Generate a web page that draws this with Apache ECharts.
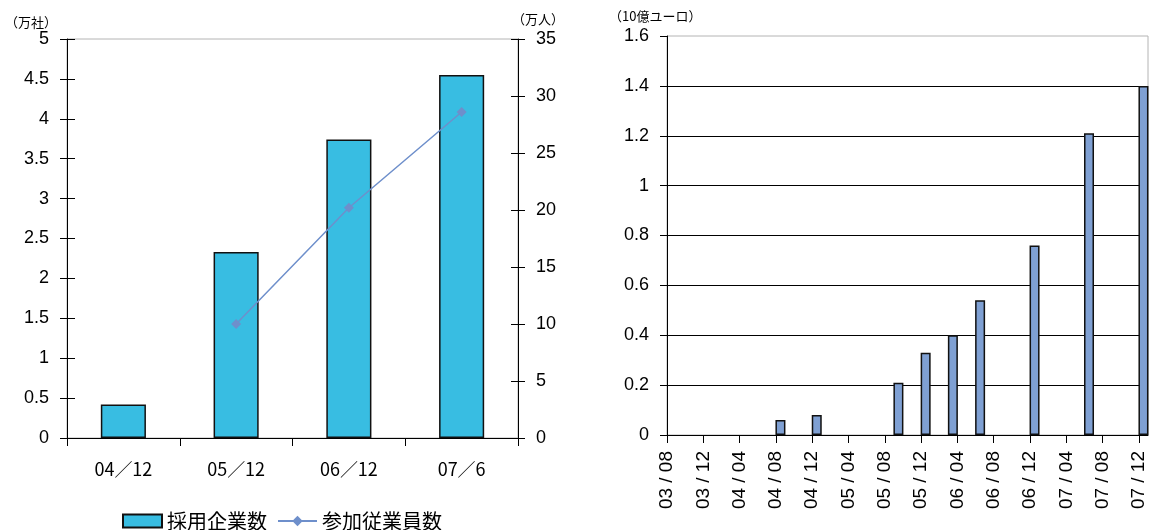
<!DOCTYPE html>
<html>
<head>
<meta charset="utf-8">
<script src="https://cdn.jsdelivr.net/npm/echarts@6/dist/echarts.min.js"></script>
<style>
  html, body { margin: 0; padding: 0; background: #fff; }
  #chart { width: 1150px; height: 530px; }
</style>
</head>
<body>
<div id="chart"></div>
<script>
// 左図：採用企業数（万社）と参加従業員数（万人）
const periods = ['04／12', '05／12', '06／12', '07／6'];
const companies = [0.42, 2.33, 3.74, 4.55];
const employees = [null, 10, 20.2, 28.6];

// 右図：月次金額（10億ユーロ）
const monthTicks = ['03/08', '03/12', '04/04', '04/08', '04/12', '05/04', '05/08',
                    '05/12', '06/04', '06/08', '06/12', '07/04', '07/08', '07/12'];
const amountMonths = ['04/08', '04/12', '05/09', '05/12', '06/03', '06/06', '06/12', '07/06', '07/12'];
const amounts = [0.06, 0.08, 0.21, 0.33, 0.40, 0.54, 0.76, 1.21, 1.40];

const JP = '"Noto Sans CJK JP", sans-serif';
const NUM = '"Liberation Sans", Arial, sans-serif';

// 'YY/MM' -> months elapsed since the first tick month
function parseYM(s) { const [y, m] = s.split('/').map(Number); return y * 12 + (m - 1); }
const origin = parseYM(monthTicks[0]);
const monthIndex = s => parseYM(s) - origin;
const lastMonth = monthIndex(monthTicks[monthTicks.length - 1]);
const tickValues = monthTicks.map(monthIndex);
const tickLabel = {};
monthTicks.forEach(t => { tickLabel[monthIndex(t)] = t.replace('/', ' / '); });

const chart = echarts.init(document.getElementById('chart'), null, { renderer: 'canvas' });

const black = '#000';
const yBase = (gridIndex, position, min, max, interval) => ({
  type: 'value', gridIndex, position, min, max, interval,
  axisLine: { show: true, lineStyle: { color: black, width: 1 } },
  axisTick: { show: true, inside: false, length: 7, lineStyle: { color: black } },
  axisLabel: { show: true, margin: 18, fontSize: 18, fontFamily: NUM, color: black },
  splitLine: { show: false }
});
const innerTicks = (gridIndex, position, min, max, interval, len) => ({
  type: 'value', gridIndex, position, min, max, interval,
  axisLine: { show: false },
  axisTick: { show: true, inside: true, length: len, lineStyle: { color: black } },
  axisLabel: { show: false },
  splitLine: { show: false }
});

const option = {
  backgroundColor: '#fff',
  animation: false,
  grid: [
    { left: 67, top: 39, width: 451, height: 399, show: true, borderColor: '#b4b4b4', borderWidth: 1, backgroundColor: '#fff' },
    { left: 667, top: 36, width: 481, height: 399, show: true, borderColor: '#b4b4b4', borderWidth: 1, backgroundColor: '#fff' }
  ],
  xAxis: [
    {
      type: 'category', gridIndex: 0, data: periods, boundaryGap: true,
      axisLine: { show: true, lineStyle: { color: black } },
      axisTick: { show: true, alignWithLabel: false, length: 8, lineStyle: { color: black } },
      axisLabel: { margin: 22, fontSize: 18, fontFamily: JP, color: black },
      splitLine: { show: false }
    },
    {
      type: 'value', gridIndex: 1, min: 0, max: lastMonth + 1,
      axisLine: { show: true, onZero: false, lineStyle: { color: black } },
      axisTick: { show: true, length: 8, customValues: tickValues, lineStyle: { color: black } },
      axisLabel: {
        customValues: tickValues, rotate: 90, margin: 16, fontSize: 19,
        fontFamily: NUM, color: black,
        formatter: v => tickLabel[v] || ''
      },
      splitLine: { show: false }
    }
  ],
  yAxis: [
    yBase(0, 'left', 0, 5, 0.5),
    yBase(0, 'right', 0, 35, 5),
    innerTicks(0, 'left', 0, 5, 0.5, 8),
    innerTicks(0, 'right', 0, 35, 5, 7),
    Object.assign(yBase(1, 'left', 0, 1.6, 0.2), {
      splitLine: { show: true, showMaxLine: false, lineStyle: { color: black, width: 1 } }
    })
  ],
  legend: {
    left: 117, top: 506,
    itemWidth: 39, itemHeight: 13, itemGap: 10,
    textStyle: { fontSize: 20, fontFamily: JP, color: black },
    data: [{ name: '採用企業数', icon: 'rect' }, { name: '参加従業員数' }]
  },
  graphic: [
    { type: 'text', left: 5, top: 16, style: { text: '（万社）', font: '13px ' + JP, fill: black } },
    { type: 'text', left: 512, top: 13, style: { text: '（万人）', font: '13px ' + JP, fill: black } },
    { type: 'text', left: 609, top: 10, style: { text: '（10億ユーロ）', font: '13px ' + JP, fill: black } }
  ],
  series: [
    {
      name: '採用企業数', type: 'bar', xAxisIndex: 0, yAxisIndex: 0,
      data: companies, barWidth: '40%',
      itemStyle: { color: '#38BDE2', borderColor: '#111', borderWidth: 1.5 }
    },
    {
      name: '参加従業員数', type: 'line', xAxisIndex: 0, yAxisIndex: 1,
      data: employees, connectNulls: false,
      symbol: 'diamond', symbolSize: 10, showSymbol: true,
      lineStyle: { color: '#6E8FCB', width: 1.5 },
      itemStyle: { color: '#6E8FCB' }
    },
    {
      name: '金額', type: 'bar', xAxisIndex: 1, yAxisIndex: 4,
      data: amountMonths.map((m, i) => [monthIndex(m) + 0.5, amounts[i]]),
      barWidth: 10,
      itemStyle: { color: '#7FA0D3', borderColor: '#111', borderWidth: 1.5 }
    }
  ]
};
chart.setOption(option);
</script>
</body>
</html>
